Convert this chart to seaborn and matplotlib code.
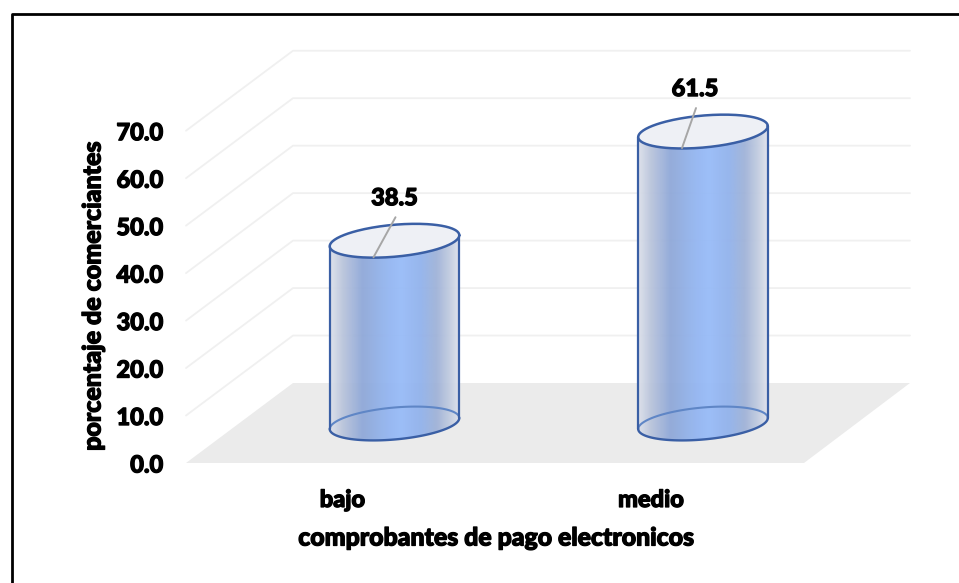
import numpy as np
import pandas as pd
import matplotlib
matplotlib.use("Agg")
import matplotlib.pyplot as plt
import matplotlib.patheffects as pe
import seaborn as sns
from matplotlib.colors import LinearSegmentedColormap
from matplotlib.patches import Polygon, PathPatch, Rectangle
from matplotlib.path import Path
from matplotlib.lines import Line2D
from matplotlib.transforms import ScaledTranslation

categories = ["bajo", "medio"]
values = [38.5, 61.5]
y_ticks = [0, 10, 20, 30, 40, 50, 60, 70]
x_title = "comprobantes de pago electronicos"
y_title = "porcentaje de comerciantes"

sns.set_theme(style="white")
plt.rcParams["font.family"] = ["Lato", "DejaVu Sans"]

W, H = 959, 583
fig = plt.figure(figsize=(W / 100, H / 100), dpi=100)
L, R, B, T = 186, 910, 463, 35
ax = fig.add_axes([L / W, 1 - B / H, (R - L) / W, (B - T) / H])

df = pd.DataFrame({"cat": categories, "val": values})
sns.barplot(data=df, x="cat", y="val", width=0.42, ax=ax, color="white", saturation=1)

PX_Y = 4.747          # px per value unit
PX_X = 308.5          # px per category
CX0 = 394.5
ax.set_xlim((L - CX0) / PX_X, (R - CX0) / PX_X)
ax.set_ylim(0, (B - T) / PX_Y)
dx = lambda p: p / PX_X
dy = lambda p: p / PX_Y

heavy = [pe.withStroke(linewidth=0.9, foreground="black")]

# perspective of the 3-D box
DEPTH_X, DEPTH_Y = dx(107), dy(80)
x_left, x_right = ax.get_xlim()

# floor
ax.add_patch(Polygon([[x_left, 0], [x_right - dx(106), 0],
                      [x_right, DEPTH_Y], [x_left + DEPTH_X, DEPTH_Y]],
                     closed=True, fc="#ebebeb", ec="none", zorder=1))
# gridlines
for t in y_ticks[1:]:
    ax.plot([x_left, x_left + DEPTH_X, x_right], [t, t + DEPTH_Y, t + DEPTH_Y],
            color="#f0f0f0", lw=1.3, zorder=0.5, clip_on=False)

cmap = LinearSegmentedColormap.from_list("cyl", [
    (0.0, "#dde1ea"), (0.10, "#b9c4dc"), (0.25, "#8fa8d8"), (0.45, "#94b6f2"),
    (0.55, "#98bcf8"), (0.70, "#92b2ec"), (0.82, "#9fb2d8"), (0.92, "#c0cbe0"),
    (1.0, "#e0e3ec")])
EDGE = "#3a5fa5"
BACK = "#5f86c6"
BASE = dy(39.5)       # floor offset of the cylinder base
TILT = dy(5.5)
B_H = dy(16)
LABEL_DX = [0, -8]    # px offset of label and leader end, per bar

def ellipse(cx, cy, a, t):
    return cx + a * np.cos(t), cy + TILT * np.cos(t) + B_H * np.sin(t)

bars = [p for p in ax.patches if isinstance(p, Rectangle)]
t_all = np.linspace(0, 2 * np.pi, 200)
for bar, val, ldx in zip(bars, values, LABEL_DX):
    a = bar.get_width() / 2
    cx = bar.get_x() + a
    bar.set_visible(False)
    y0, y1 = BASE, BASE + bar.get_height()
    tb = np.linspace(np.pi, 2 * np.pi, 80)
    tt = np.linspace(0, np.pi, 80)
    xb, yb = ellipse(cx, y0, a, tb)
    xt, yt = ellipse(cx, y1, a, tt)
    verts = np.r_[np.c_[xb, yb], np.c_[xt, yt], [[xb[0], yb[0]]]]
    sil = PathPatch(Path(verts), fc="none", ec="none")
    ax.add_patch(sil)
    g = np.linspace(0, 1, 256).reshape(1, -1)
    im = ax.imshow(g, cmap=cmap, aspect="auto", zorder=2, alpha=0.95,
                   extent=[cx - a, cx + a, y0 - dy(25), y1 + dy(25)])
    im.set_clip_path(sil)
    # base ellipse: lighter back arc, darker front arc
    xe, ye = ellipse(cx, y0, a, tt)
    ax.plot(xe, ye, color=BACK, lw=1.5, zorder=3)
    xe, ye = ellipse(cx, y0, a, tb)
    ax.plot(xe, ye, color=EDGE, lw=1.7, zorder=3)
    # sides
    ax.plot([cx - a, cx - a], [y0 - TILT, y1 - TILT], color=EDGE, lw=1.6, zorder=3)
    ax.plot([cx + a, cx + a], [y0 + TILT, y1 + TILT], color=EDGE, lw=1.6, zorder=3)
    # top
    xe, ye = ellipse(cx, y1, a, t_all)
    ax.fill(xe, ye, color="#eef0f5", zorder=3, lw=0)
    ax.plot(xe, ye, color=EDGE, lw=1.8, zorder=4)
    # leader and label
    ax.plot([cx - dx(21), cx + dx(1 + ldx)], [y1 - dy(16.5), y1 + dy(23.5)],
            color="#a6a6a6", lw=1.4, zorder=5)
    ax.text(cx + dx(ldx), y1 + dy(43), f"{val:.1f}", ha="center", va="center",
            fontsize=17, fontweight="black", color="black", zorder=6, path_effects=heavy)

ax.set_yticks(y_ticks, [f"{t:.1f}" for t in y_ticks])
ax.tick_params(axis="y", length=0, pad=16.5, labelsize=17)
ax.tick_params(axis="x", length=0, pad=18, labelsize=17)
for lab in ax.get_yticklabels() + ax.get_xticklabels():
    lab.set_fontweight("black")
    lab.set_color("black")
    lab.set_path_effects(heavy)
shift = ScaledTranslation(-52 / 100, 0, fig.dpi_scale_trans)
for lab in ax.get_xticklabels():
    lab.set_transform(lab.get_transform() + shift)

ax.set_xlabel(x_title, fontsize=17.9, fontweight="black", color="black", path_effects=heavy)
ax.set_ylabel(y_title, fontsize=18, fontweight="black", color="black", path_effects=heavy)
ax.xaxis.set_label_coords((496 - L) / (R - L), 1 - (538 - T) / (B - T), transform=ax.transAxes)
ax.yaxis.set_label_coords((93 - L) / (R - L), 1 - (296 - T) / (B - T), transform=ax.transAxes)
ax.xaxis.label.set_verticalalignment("center")
ax.yaxis.label.set_verticalalignment("center")
sns.despine(ax=ax, left=True, bottom=True, top=True, right=True)
ax.grid(False)

# outer frame, open at the right and the bottom
fig.add_artist(Line2D([12 / W, 12 / W, 1], [0, 1 - 14 / H, 1 - 14 / H],
                      color="black", lw=2.0, transform=fig.transFigure))

fig.savefig("out.png", dpi=100)
